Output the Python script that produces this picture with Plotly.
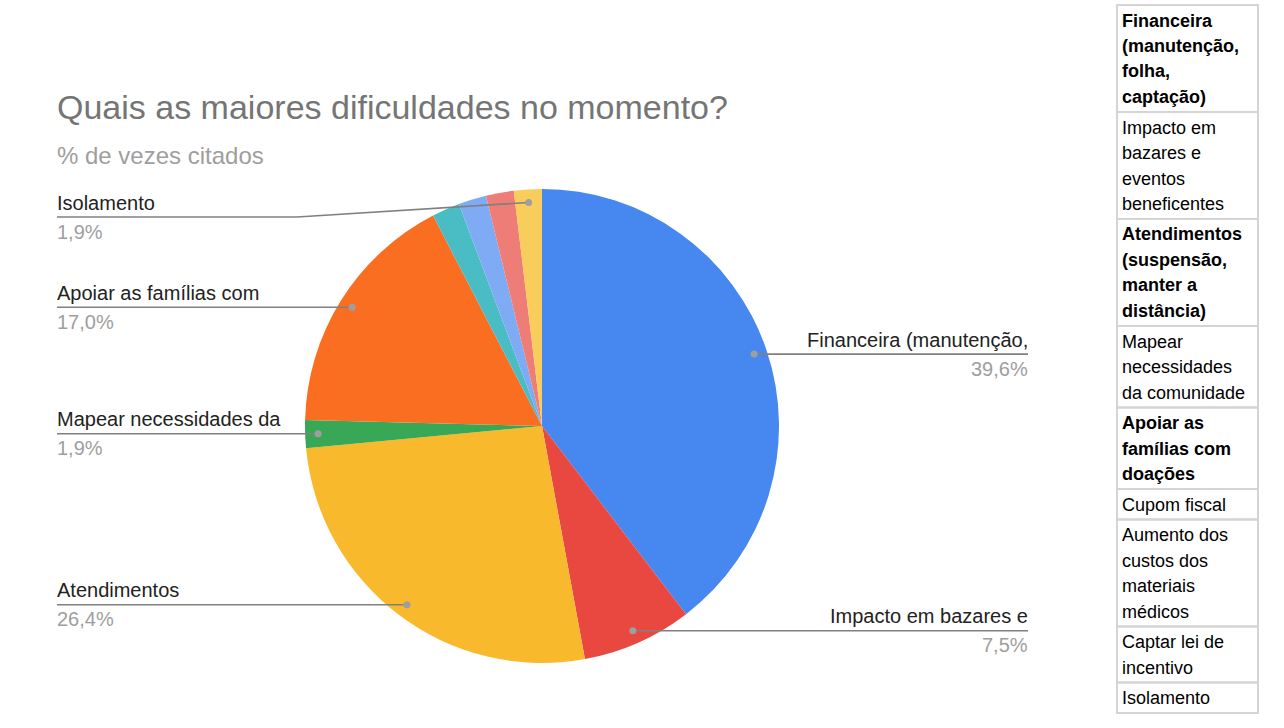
import math
import textwrap
import plotly.graph_objects as go

# categorias citadas (nome completo, como na tabela ao lado)
categorias = [
    "Financeira (manutenção, folha, captação)",
    "Impacto em bazares e eventos beneficentes",
    "Atendimentos (suspensão, manter a distância)",
    "Mapear necessidades da comunidade",
    "Apoiar as famílias com doações",
    "Cupom fiscal",
    "Aumento dos custos dos materiais médicos",
    "Captar lei de incentivo",
    "Isolamento",
]
# rotulos truncados que aparecem no grafico (None = fatia sem rotulo)
rotulos = [
    "Financeira (manutenção,",
    "Impacto em bazares e",
    "Atendimentos",
    "Mapear necessidades da",
    "Apoiar as famílias com",
    None,
    None,
    None,
    "Isolamento",
]
percentuais = [39.6, 7.5, 26.4, 1.9, 17.0, 1.9, 1.9, 1.9, 1.9]
cores = ["#4688EF", "#E8483F", "#F8B92D", "#39A856", "#FA6E22",
         "#4ABCC4", "#7FABF5", "#EE7D77", "#F9CD5C"]
negrito = [True, False, True, False, True, False, False, False, False]

W, H = 1284, 728
FONTE = "Arial, Liberation Sans, sans-serif"
cx, cy, raio = 542, 426, 237


def px(x):
    return x / W


def py(y):
    return 1 - y / H


fig = go.Figure()
fig.add_trace(go.Pie(
    labels=categorias, values=percentuais, sort=False, direction="clockwise",
    rotation=0, marker=dict(colors=cores, line=dict(width=0)),
    textinfo="none", showlegend=False, hoverinfo="label+percent",
    domain=dict(x=[px(cx - raio), px(cx + raio)], y=[py(cy + raio), py(cy - raio)]),
))

shapes = []
anots = []

# titulo
anots.append(dict(x=px(55), y=py(107), text="Quais as maiores dificuldades no momento?",
                  xanchor="left", yanchor="middle", font=dict(size=34, color="#757575")))
anots.append(dict(x=px(55), y=py(155), text="% de vezes citados",
                  xanchor="left", yanchor="middle", font=dict(size=24, color="#9e9e9e")))

# rotulos com linhas de chamada
total = sum(percentuais)
acum = 0
for nome, v in zip(rotulos, percentuais):
    ang = (acum + v / 2) / total * 2 * math.pi
    acum += v
    if nome is None:
        continue
    dx = cx + 0.945 * raio * math.sin(ang)
    dy = cy - 0.945 * raio * math.cos(ang)
    pct = f"{v:.1f}%".replace(".", ",")
    direita = dx > cx
    if nome == "Isolamento":
        ly, cotovelo = 217, 297
    else:
        ly, cotovelo = dy, None
    if direita:
        tx, anc = 1028, "right"
    else:
        tx, anc = 57, "left"
    pts = [(dx, dy)]
    if cotovelo is not None:
        pts.append((cotovelo, ly))
    pts.append((tx, ly))
    for (x0, y0), (x1, y1) in zip(pts[:-1], pts[1:]):
        shapes.append(dict(type="line", xref="paper", yref="paper",
                           x0=px(x0), y0=py(y0), x1=px(x1), y1=py(y1),
                           line=dict(color="#808080", width=1.6), layer="above"))
    shapes.append(dict(type="circle", xref="paper", yref="paper",
                       x0=px(dx - 3.5), x1=px(dx + 3.5), y0=py(dy - 3.5), y1=py(dy + 3.5),
                       fillcolor="#9e9e9e", line=dict(width=0), layer="above"))
    ax = tx + 2 if direita else tx - 2
    anots.append(dict(x=px(ax), y=py(ly - 14.5), text=nome, xanchor=anc, yanchor="middle",
                      font=dict(size=20, color="#222222")))
    anots.append(dict(x=px(ax), y=py(ly + 14.5), text=pct, xanchor=anc, yanchor="middle",
                      font=dict(size=20, color="#9e9e9e")))

# tabela da direita
topo = 5
for nome, b in zip(categorias, negrito):
    linhas = textwrap.wrap(nome, 13)
    alt = 5 + 25.5 * len(linhas)
    shapes.append(dict(type="rect", xref="paper", yref="paper",
                       x0=px(1117), x1=px(1258), y0=py(topo), y1=py(topo + alt),
                       line=dict(color="#d4d4d4", width=2), layer="above"))
    for i, ln in enumerate(linhas):
        anots.append(dict(x=px(1120), y=py(topo + 15.5 + 25.5 * i),
                          text=f"<b>{ln}</b>" if b else ln,
                          xanchor="left", yanchor="middle",
                          font=dict(size=18, color="#000000")))
    topo += alt

for a in anots:
    a.update(xref="paper", yref="paper", showarrow=False)

fig.update_layout(
    width=W, height=H, margin=dict(l=0, r=0, t=0, b=0),
    paper_bgcolor="white", plot_bgcolor="white",
    font=dict(family=FONTE), shapes=shapes, annotations=anots,
)
fig.write_html("out.html", config={"displayModeBar": False},
               post_script="document.body.style.margin='0';")
